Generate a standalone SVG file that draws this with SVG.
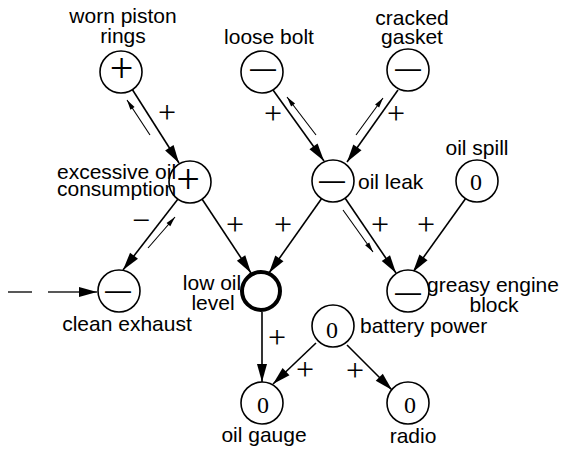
<svg xmlns="http://www.w3.org/2000/svg" width="561" height="450" viewBox="0 0 561 450">
<style>
.bg{fill:#fff}
.nd{fill:#fff;stroke:#000;stroke-width:1.6}
.thick{fill:#fff;stroke:#000;stroke-width:4}
.lbl{font-family:"Liberation Sans",Arial,sans-serif;font-size:21px;fill:#000}
.plus{font-family:"Liberation Serif","Times New Roman",serif;font-size:42px;fill:#000;text-anchor:middle}
.dash{font-family:"Liberation Sans",Arial,sans-serif;font-size:26px;fill:#000;text-anchor:middle}
.zero{font-family:"Liberation Serif","Times New Roman",serif;font-size:24px;fill:#000;text-anchor:middle}
.sgn{font-family:"Liberation Serif","Times New Roman",serif;font-size:32px;fill:#000;text-anchor:middle}
.e{fill:none;stroke:#000;stroke-width:1.6;marker-end:url(#ah)}
.t{fill:none;stroke:#000;stroke-width:1.1;marker-end:url(#ahs)}
.d{fill:none;stroke:#222;stroke-width:1.3;stroke-dasharray:24 16 60;marker-end:url(#ah)}
.m{text-anchor:middle}
</style>
<defs>
<marker id="ah" markerUnits="userSpaceOnUse" markerWidth="18" markerHeight="10" refX="18" refY="5" orient="auto" overflow="visible"><path d="M0,0 L18,5 L0,10 z" fill="#000"/></marker>
<marker id="ahs" markerUnits="userSpaceOnUse" markerWidth="10" markerHeight="5" refX="10" refY="2.5" orient="auto" overflow="visible"><path d="M0,0 L10,2.5 L0,5 z" fill="#000"/></marker>
</defs>
<rect class="bg" x="0" y="0" width="561" height="450"/>
<g id="connectors">
<path class="e" d="M132,89 L179,163"/>
<path class="t" d="M150,135 L127,100"/>
<path class="e" d="M273,90 L324,161"/>
<path class="t" d="M316,135 L287,97"/>
<path class="e" d="M398,90 L347,162"/>
<path class="t" d="M356,135 L383,98"/>
<path class="e" d="M178,199 L123,270"/>
<path class="t" d="M148,248 L175,217"/>
<path class="e" d="M202,199 L251,273"/>
<path class="e" d="M322,198 L269,273"/>
<path class="e" d="M345,198 L396,273"/>
<path class="t" d="M343,210 L373,252"/>
<path class="e" d="M466,198 L413,272"/>
<path class="e" d="M262,312 L262,382"/>
<path class="e" d="M316,343 L273,384"/>
<path class="e" d="M347,345 L392,390"/>
<path class="d" d="M8,292 L97,292"/>
<text class="sgn" x="167" y="123">+</text>
<text class="sgn" x="273" y="124">+</text>
<text class="sgn" x="396" y="124">+</text>
<text class="sgn" x="141" y="231">−</text>
<text class="sgn" x="235" y="235">+</text>
<text class="sgn" x="283" y="235">+</text>
<text class="sgn" x="380" y="235">+</text>
<text class="sgn" x="426" y="235">+</text>
<text class="sgn" x="277" y="348">+</text>
<text class="sgn" x="305" y="380">+</text>
<text class="sgn" x="355" y="381">+</text>
</g>
<g id="worn-piston-rings">
<circle class="nd" cx="121" cy="72" r="21"/>
<text class="plus" x="121.5" y="82">+</text>
<text class="lbl m" x="123" y="23">worn piston</text>
<text class="lbl m" x="123" y="43">rings</text>
</g>
<g id="loose-bolt">
<circle class="nd" cx="262" cy="72" r="21"/>
<text class="dash" x="263" y="77">—</text>
<text class="lbl m" x="269" y="44">loose bolt</text>
</g>
<g id="cracked-gasket">
<circle class="nd" cx="408" cy="70" r="21"/>
<text class="dash" x="408" y="77">—</text>
<text class="lbl m" x="412" y="25">cracked</text>
<text class="lbl m" x="412" y="44">gasket</text>
</g>
<g id="excessive-oil-consumption">
<circle class="nd" cx="190" cy="182" r="21"/>
<text class="plus" x="188" y="193">+</text>
<text class="lbl" x="57" y="179">excessive oil</text>
<text class="lbl" x="57" y="196">consumption</text>
</g>
<g id="oil-leak">
<circle class="nd" cx="333" cy="181" r="21"/>
<text class="dash" x="332" y="189">—</text>
<text class="lbl" x="358" y="189">oil leak</text>
</g>
<g id="oil-spill">
<circle class="nd" cx="477" cy="181" r="21"/>
<text class="zero" x="476" y="190">0</text>
<text class="lbl m" x="477" y="155">oil spill</text>
</g>
<g id="clean-exhaust">
<circle class="nd" cx="119" cy="291" r="21"/>
<text class="dash" x="118" y="299">—</text>
<text class="lbl m" x="127" y="331">clean exhaust</text>
</g>
<g id="low-oil-level">
<circle class="thick" cx="261" cy="291" r="19"/>
<text class="lbl m" x="212" y="290">low oil</text>
<text class="lbl m" x="213" y="310">level</text>
</g>
<g id="greasy-engine-block">
<circle class="nd" cx="408" cy="291" r="21"/>
<text class="dash" x="408" y="301">—</text>
<text class="lbl m" x="493" y="292">greasy engine</text>
<text class="lbl m" x="494" y="312">block</text>
</g>
<g id="battery-power">
<circle class="nd" cx="333" cy="326" r="21"/>
<text class="zero" x="332" y="338">0</text>
<text class="lbl" x="360" y="333">battery power</text>
</g>
<g id="oil-gauge">
<circle class="nd" cx="262" cy="403" r="21"/>
<text class="zero" x="263" y="413">0</text>
<text class="lbl m" x="264" y="442">oil gauge</text>
</g>
<g id="radio">
<circle class="nd" cx="408" cy="403" r="21"/>
<text class="zero" x="410" y="413">0</text>
<text class="lbl m" x="413" y="443">radio</text>
</g>
</svg>
